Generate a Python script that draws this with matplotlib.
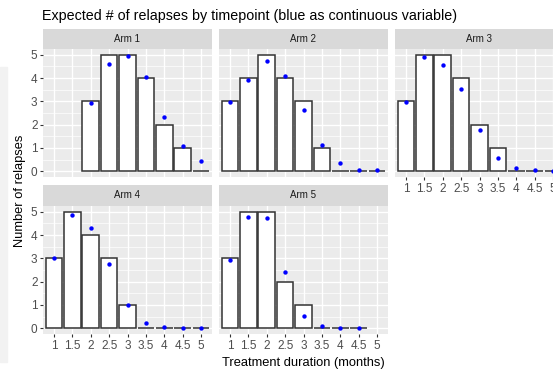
import matplotlib.pyplot as plt
from matplotlib.patches import Rectangle

plt.rcParams['font.family'] = ['Liberation Sans', 'DejaVu Sans']

# durations (months) shown on the x axis
durations = [1, 1.5, 2, 2.5, 3, 3.5, 4, 4.5, 5]
tick_labels = ["1", "1.5", "2", "2.5", "3", "3.5", "4", "4.5", "5"]

arms = ["Arm 1", "Arm 2", "Arm 3", "Arm 4", "Arm 5"]

# observed relapses per timepoint (None = no data)
observed = {
    "Arm 1": [None, None, 3, 5, 5, 4, 2, 1, 0],
    "Arm 2": [3, 4, 5, 4, 3, 1, 0, 0, 0],
    "Arm 3": [3, 5, 5, 4, 2, 1, 0, 0, 0],
    "Arm 4": [3, 5, 4, 3, 1, 0, 0, 0, 0],
    "Arm 5": [3, 5, 5, 2, 1, 0, 0, 0, None],
}

# expected relapses, duration as continuous variable
expected = {
    "Arm 1": [None, None, 2.91, 4.59, 4.96, 4.05, 2.33, 1.09, 0.43],
    "Arm 2": [2.98, 3.93, 4.73, 4.08, 2.63, 1.12, 0.36, 0.07, 0.03],
    "Arm 3": [2.98, 4.89, 4.55, 3.51, 1.75, 0.55, 0.14, 0.03, 0.01],
    "Arm 4": [3.0, 4.86, 4.30, 2.77, 0.99, 0.23, 0.06, 0.01, 0.01],
    "Arm 5": [2.95, 4.77, 4.74, 2.41, 0.53, 0.10, 0.01, 0.01, None],
}

W, H = 553, 371
fig = plt.figure(figsize=(W / 100, H / 100), dpi=100)

# faint screenshot strip on the left edge
fig.patches.append(Rectangle((0, 1 - 362 / H), 7 / W, (362 - 67) / H,
                             transform=fig.transFigure, color="#F2F2F2", zorder=0))


def box(x0, y0, x1, y1):
    return [x0 / W, 1 - y1 / H, (x1 - x0) / W, (y1 - y0) / H]


cols = [(43, 212), (219, 388), (395, 564)]
rows = [((29, 49), (49, 177)), ((185, 206), (206, 334))]
layout = {"Arm 1": (0, 0), "Arm 2": (0, 1), "Arm 3": (0, 2),
          "Arm 4": (1, 0), "Arm 5": (1, 1)}

for arm in arms:
    r, c = layout[arm]
    (sy0, sy1), (py0, py1) = rows[r]
    x0, x1 = cols[c]

    # strip
    sax = fig.add_axes(box(x0, sy0, x1, sy1))
    sax.set_facecolor("#D9D9D9")
    sax.set_xticks([])
    sax.set_yticks([])
    for s in sax.spines.values():
        s.set_visible(False)
    sax.text(0.5, 0.5, arm, ha="center", va="center", fontsize=7,
             color="#1A1A1A", transform=sax.transAxes)

    ax = fig.add_axes(box(x0, py0, x1, py1))
    ax.set_facecolor("#EBEBEB")
    for s in ax.spines.values():
        s.set_visible(False)
    ax.set_xlim(0.7, 5.3)
    ax.set_ylim(-0.25, 5.25)
    ax.set_xticks(durations)
    ax.set_yticks(range(6))
    ax.set_yticks([0.5, 1.5, 2.5, 3.5, 4.5], minor=True)
    ax.grid(True, which="major", color="white", linewidth=1.0, zorder=0)
    ax.grid(True, which="minor", axis="y", color="white", linewidth=0.5, zorder=0)
    ax.set_axisbelow(True)

    xs = [d for d, v in zip(durations, observed[arm]) if v is not None]
    ys = [v for v in observed[arm] if v is not None]
    ax.bar(xs, ys, width=0.45, facecolor="white", edgecolor="#333333",
           linewidth=1.1, zorder=2)

    ex = [d for d, v in zip(durations, expected[arm]) if v is not None]
    ey = [v for v in expected[arm] if v is not None]
    ax.scatter(ex, ey, s=10, color="blue", linewidths=0, zorder=3)

    ax.tick_params(which="both", colors="#333333", length=2.5, width=0.8,
                   labelcolor="#4D4D4D", labelsize=8.5, pad=1.5)
    ax.tick_params(which="minor", length=0)
    if c == 0:
        ax.set_yticklabels([str(i) for i in range(6)])
    else:
        ax.tick_params(axis="y", which="major", length=0, labelleft=False)
    if arm in ("Arm 3", "Arm 4", "Arm 5"):
        ax.set_xticklabels(tick_labels)
    else:
        ax.tick_params(axis="x", length=0, labelbottom=False)

fig.text(42 / W, 1 - 16 / H, "Expected # of relapses by timepoint (blue as continuous variable)",
         ha="left", va="center", fontsize=10.3, color="black")
fig.text(20 / W, 1 - 191 / H, "Number of relapses", rotation=90,
         ha="center", va="center", fontsize=9.3, color="black")
fig.text(303 / W, 1 - 363 / H, "Treatment duration (months)",
         ha="center", va="center", fontsize=9.3, color="black")

fig.savefig("out.png", dpi=100)
